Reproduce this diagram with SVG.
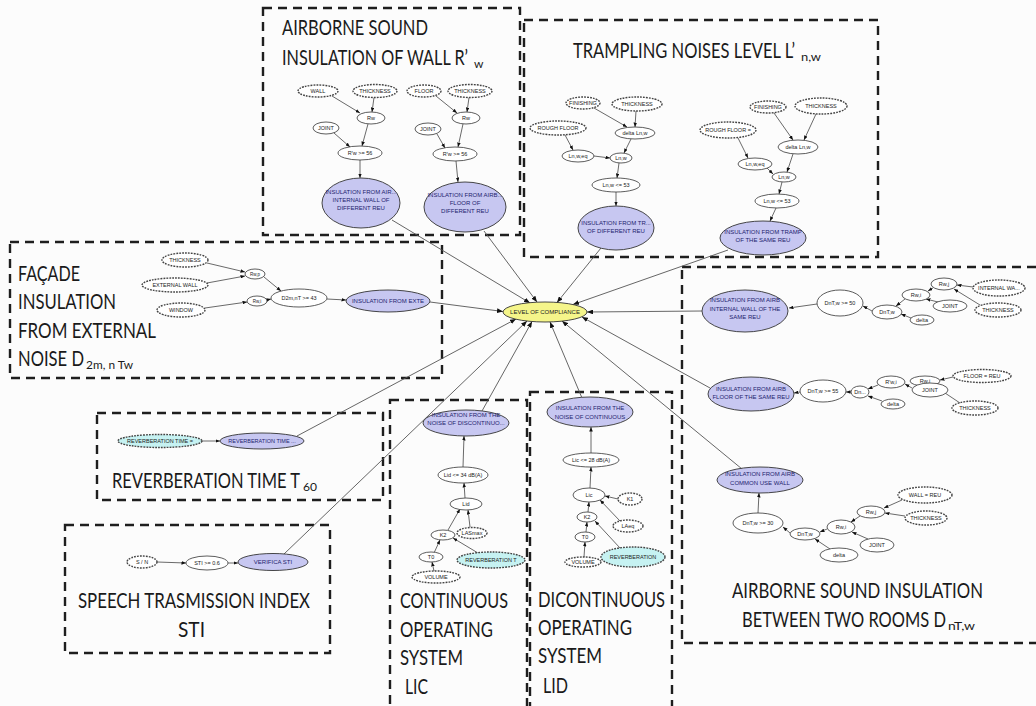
<svg xmlns="http://www.w3.org/2000/svg" width="1036" height="706" viewBox="0 0 1036 706">
<defs>
<style>
.box{fill:none;stroke:#1e1e1e;stroke-width:2.4;stroke-dasharray:9 6}
.n{fill:#fff;stroke:#333;stroke-width:0.8}
.e{fill:#fff;stroke:#444;stroke-width:1.4;stroke-dasharray:1.8 1.1}
.b{fill:#c7c7f1;stroke:#333;stroke-width:0.9}
.c{fill:#c6f2f2;stroke:#444;stroke-width:1.4;stroke-dasharray:1.8 1.1}
.y{fill:#f5f58a;stroke:#333;stroke-width:0.9}
.t{font-family:"Liberation Sans",Arial,sans-serif;font-size:5.5px;fill:#222;text-anchor:middle}
.bt{font-family:"Liberation Sans",Arial,sans-serif;font-size:6px;fill:#1d1d6e;text-anchor:middle}
.ti{font-family:Lato,"Liberation Sans",sans-serif;font-size:21px;fill:#1a1a1a}
.sb{font-size:12px}
.ed{stroke:#444;stroke-width:0.8;fill:none;marker-end:url(#ah)}
.cx{stroke:#555;stroke-width:0.9;fill:none;marker-end:url(#ah2)}
</style>
<marker id="ah" viewBox="0 0 10 8" refX="10" refY="4" markerWidth="4.5" markerHeight="3.6" markerUnits="userSpaceOnUse" orient="auto"><path d="M0,0L10,4L0,8z" fill="#111"/></marker>
<marker id="ah2" viewBox="0 0 10 8" refX="10" refY="4" markerWidth="6" markerHeight="4.8" markerUnits="userSpaceOnUse" orient="auto"><path d="M0,0L10,4L0,8z" fill="#111"/></marker>
</defs>
<rect width="1036" height="706" fill="#fcfcfc"/>

<g id="frames">
<rect class="box" x="263" y="8" width="257" height="227"/>
<rect class="box" x="524" y="20" width="354" height="237"/>
<rect class="box" x="10" y="242" width="432" height="136"/>
<rect class="box" x="682" y="267" width="380" height="376"/>
<rect class="box" x="97" y="413" width="286" height="87"/>
<rect class="box" x="65" y="525" width="265" height="128"/>
<rect class="box" x="390" y="400" width="137" height="330"/>
<rect class="box" x="530" y="392" width="142" height="340"/>
</g>

<g id="titles">
<text class="ti" x="282" y="35" textLength="146" lengthAdjust="spacingAndGlyphs">AIRBORNE SOUND</text>
<text class="ti" x="282" y="65"><tspan textLength="186" lengthAdjust="spacingAndGlyphs">INSULATION OF WALL R’</tspan><tspan class="sb" x="474" y="68">w</tspan></text>
<text class="ti" x="573" y="58"><tspan textLength="222" lengthAdjust="spacingAndGlyphs">TRAMPLING NOISES LEVEL L’</tspan><tspan class="sb" x="801" y="61" textLength="20" lengthAdjust="spacingAndGlyphs">n,w</tspan></text>
<text class="ti" x="18" y="281" textLength="62" lengthAdjust="spacingAndGlyphs">FAÇADE</text>
<text class="ti" x="18" y="309" textLength="98" lengthAdjust="spacingAndGlyphs">INSULATION</text>
<text class="ti" x="18" y="338" textLength="138" lengthAdjust="spacingAndGlyphs">FROM EXTERNAL</text>
<text class="ti" x="18" y="366"><tspan textLength="66" lengthAdjust="spacingAndGlyphs">NOISE D</tspan><tspan class="sb" x="86" y="369" textLength="47" lengthAdjust="spacingAndGlyphs">2m, n Tw</tspan></text>
<text class="ti" x="732" y="598" textLength="251" lengthAdjust="spacingAndGlyphs">AIRBORNE SOUND INSULATION</text>
<text class="ti" x="742" y="627"><tspan textLength="204" lengthAdjust="spacingAndGlyphs">BETWEEN TWO ROOMS D</tspan><tspan class="sb" x="948" y="630" textLength="27" lengthAdjust="spacingAndGlyphs">nT,w</tspan></text>
<text class="ti" x="112" y="488"><tspan textLength="188" lengthAdjust="spacingAndGlyphs">REVERBERATION TIME T</tspan><tspan class="sb" x="303" y="491" textLength="14" lengthAdjust="spacingAndGlyphs">60</tspan></text>
<text class="ti" x="78" y="608" textLength="232" lengthAdjust="spacingAndGlyphs">SPEECH TRASMISSION INDEX</text>
<text class="ti" x="178" y="637" textLength="27" lengthAdjust="spacingAndGlyphs">STI</text>
<text class="ti" x="400" y="608" textLength="108" lengthAdjust="spacingAndGlyphs">CONTINUOUS</text>
<text class="ti" x="400" y="637" textLength="93" lengthAdjust="spacingAndGlyphs">OPERATING</text>
<text class="ti" x="400" y="665" textLength="63" lengthAdjust="spacingAndGlyphs">SYSTEM</text>
<text class="ti" x="405" y="694" textLength="23" lengthAdjust="spacingAndGlyphs">LIC</text>
<text class="ti" x="538" y="607" textLength="127" lengthAdjust="spacingAndGlyphs">DICONTINUOUS</text>
<text class="ti" x="538" y="635" textLength="94" lengthAdjust="spacingAndGlyphs">OPERATING</text>
<text class="ti" x="538" y="663" textLength="64" lengthAdjust="spacingAndGlyphs">SYSTEM</text>
<text class="ti" x="543" y="693" textLength="25" lengthAdjust="spacingAndGlyphs">LID</text>
</g>

<g id="connectors">
<line class="ed" x1="332" y1="96" x2="360" y2="113"/>
<line class="ed" x1="374" y1="97.5" x2="372" y2="112"/>
<line class="ed" x1="368" y1="124" x2="362" y2="146"/>
<line class="ed" x1="334" y1="133" x2="350" y2="147"/>
<line class="ed" x1="360" y1="160" x2="360" y2="178"/>
<line class="ed" x1="436" y1="96" x2="457" y2="113"/>
<line class="ed" x1="469" y1="97.5" x2="467" y2="112"/>
<line class="ed" x1="463" y1="124" x2="458" y2="147"/>
<line class="ed" x1="437" y1="134" x2="445" y2="148"/>
<line class="ed" x1="456" y1="161" x2="458" y2="182"/>
<line class="ed" x1="594" y1="108" x2="627" y2="127"/>
<line class="ed" x1="636" y1="111" x2="635" y2="127"/>
<line class="ed" x1="565" y1="135" x2="573" y2="150"/>
<line class="ed" x1="631" y1="139" x2="624" y2="153"/>
<line class="ed" x1="594" y1="156" x2="610" y2="158"/>
<line class="ed" x1="619" y1="163" x2="617" y2="178"/>
<line class="ed" x1="616" y1="192" x2="616" y2="206"/>
<line class="ed" x1="774" y1="113" x2="793" y2="140"/>
<line class="ed" x1="816" y1="114" x2="804" y2="140"/>
<line class="ed" x1="738" y1="138" x2="748" y2="158"/>
<line class="ed" x1="793" y1="154" x2="787" y2="172"/>
<line class="ed" x1="767" y1="168" x2="773" y2="174"/>
<line class="ed" x1="782" y1="182" x2="779" y2="194"/>
<line class="ed" x1="776" y1="208" x2="770" y2="221"/>
<line class="ed" x1="207" y1="263" x2="245" y2="272"/>
<line class="ed" x1="207" y1="283" x2="245" y2="276"/>
<line class="ed" x1="205" y1="308" x2="247" y2="302"/>
<line class="ed" x1="264" y1="277" x2="281" y2="291"/>
<line class="ed" x1="267" y1="300" x2="271" y2="299"/>
<line class="ed" x1="327" y1="299" x2="346" y2="300"/>
<line class="ed" x1="973" y1="287" x2="957" y2="285"/>
<line class="ed" x1="980" y1="305" x2="954" y2="289"/>
<line class="ed" x1="933" y1="288" x2="928" y2="291"/>
<line class="ed" x1="938" y1="302" x2="926" y2="299"/>
<line class="ed" x1="905" y1="299" x2="896" y2="306"/>
<line class="ed" x1="911" y1="318" x2="901" y2="314"/>
<line class="ed" x1="872" y1="311" x2="863" y2="306"/>
<line class="ed" x1="817" y1="304" x2="789" y2="308"/>
<line class="ed" x1="953" y1="377" x2="940" y2="380"/>
<line class="ed" x1="960" y1="403" x2="933" y2="385"/>
<line class="ed" x1="912" y1="388" x2="905" y2="384"/>
<line class="ed" x1="878" y1="385" x2="868" y2="389"/>
<line class="ed" x1="882" y1="401" x2="868" y2="396"/>
<line class="ed" x1="851" y1="392" x2="846" y2="392"/>
<line class="ed" x1="800" y1="392" x2="794" y2="393"/>
<line class="ed" x1="902" y1="500" x2="884" y2="508"/>
<line class="ed" x1="905" y1="516" x2="885" y2="513"/>
<line class="ed" x1="860" y1="516" x2="851" y2="522"/>
<line class="ed" x1="868" y1="539" x2="852" y2="532"/>
<line class="ed" x1="827" y1="529" x2="820" y2="532"/>
<line class="ed" x1="830" y1="549" x2="815" y2="539"/>
<line class="ed" x1="790" y1="533" x2="783" y2="527"/>
<line class="ed" x1="758" y1="513" x2="759" y2="493"/>
<line class="ed" x1="202" y1="441" x2="220" y2="441"/>
<line class="ed" x1="157" y1="562" x2="186" y2="563"/>
<line class="ed" x1="228" y1="563" x2="238" y2="563"/>
<line class="ed" x1="434" y1="571" x2="432" y2="562"/>
<line class="ed" x1="434" y1="553" x2="440" y2="540"/>
<line class="ed" x1="478" y1="553" x2="453" y2="538"/>
<line class="ed" x1="448" y1="530" x2="460" y2="509"/>
<line class="ed" x1="470" y1="527" x2="468" y2="510"/>
<line class="ed" x1="465" y1="498" x2="464" y2="483"/>
<line class="ed" x1="463" y1="467" x2="464" y2="436"/>
<line class="ed" x1="584" y1="557" x2="585" y2="542"/>
<line class="ed" x1="586" y1="532" x2="587" y2="522"/>
<line class="ed" x1="620" y1="548" x2="595" y2="521"/>
<line class="ed" x1="588" y1="512" x2="589" y2="502"/>
<line class="ed" x1="620" y1="521" x2="600" y2="500"/>
<line class="ed" x1="618" y1="499" x2="605" y2="496"/>
<line class="ed" x1="590" y1="488" x2="591" y2="467"/>
<line class="ed" x1="591" y1="453" x2="591" y2="427"/>
<line class="cx" x1="392" y1="220" x2="530" y2="303"/>
<line class="cx" x1="484" y1="231" x2="537" y2="302"/>
<line class="cx" x1="601" y1="248" x2="557" y2="302.5"/>
<line class="cx" x1="728" y1="250" x2="573" y2="304.5"/>
<line class="cx" x1="430" y1="302" x2="503" y2="311.5"/>
<line class="cx" x1="702" y1="311" x2="587" y2="312"/>
<line class="cx" x1="710" y1="388" x2="582" y2="317"/>
<line class="cx" x1="742" y1="469" x2="562" y2="321"/>
<line class="cx" x1="582" y1="398" x2="550" y2="322"/>
<line class="cx" x1="482" y1="411" x2="532" y2="321.5"/>
<line class="cx" x1="284" y1="554" x2="527" y2="321"/>
<line class="cx" x1="297" y1="436" x2="516" y2="319"/>
</g>

<g id="n-loc"><ellipse class="y" cx="545" cy="312" rx="42" ry="10"/><text class="t" style="font-size:6px" x="545" y="314.2">LEVEL OF COMPLIANCE</text></g>

<g id="n-aw-wall"><ellipse class="e" cx="318" cy="91" rx="20" ry="6"/><text class="t" x="318" y="93">WALL</text></g>
<g id="n-aw-thk1"><ellipse class="e" cx="375" cy="91" rx="22" ry="6.5"/><text class="t" x="375" y="93">THICKNESS</text></g>
<g id="n-aw-rw1"><ellipse class="n" cx="371" cy="118" rx="14" ry="6"/><text class="t" x="371" y="120">Rw</text></g>
<g id="n-aw-joint1"><ellipse class="n" cx="326" cy="128" rx="13" ry="6"/><text class="t" x="326" y="130">JOINT</text></g>
<g id="n-aw-rwg1"><ellipse class="n" cx="360" cy="153" rx="22" ry="7"/><text class="t" x="360" y="155">R'w &gt;= 56</text></g>
<g id="n-aw-ins1"><ellipse class="b" cx="361" cy="203" rx="39" ry="25"/><text class="bt" x="361" y="194">INSULATION FROM AIR...</text><text class="bt" x="361" y="202">INTERNAL WALL OF</text><text class="bt" x="361" y="210">DIFFERENT REU</text></g>
<g id="n-aw-floor"><ellipse class="e" cx="424" cy="91" rx="17" ry="6"/><text class="t" x="424" y="93">FLOOR</text></g>
<g id="n-aw-thk2"><ellipse class="e" cx="470" cy="91" rx="22" ry="6.5"/><text class="t" x="470" y="93">THICKNESS</text></g>
<g id="n-aw-rw2"><ellipse class="n" cx="466" cy="118" rx="14" ry="6"/><text class="t" x="466" y="120">Rw</text></g>
<g id="n-aw-joint2"><ellipse class="n" cx="428" cy="129" rx="13" ry="6"/><text class="t" x="428" y="131">JOINT</text></g>
<g id="n-aw-rwg2"><ellipse class="n" cx="455" cy="154" rx="22" ry="7"/><text class="t" x="455" y="156">R'w &gt;= 56</text></g>
<g id="n-aw-ins2"><ellipse class="b" cx="465" cy="207" rx="41" ry="25"/><text class="bt" x="465" y="197">INSULATION FROM AIRB...</text><text class="bt" x="465" y="205">FLOOR OF</text><text class="bt" x="465" y="213">DIFFERENT REU</text></g>

<g id="n-tr-fin1"><ellipse class="e" cx="583" cy="103" rx="17" ry="6"/><text class="t" x="583" y="105">FINISHING</text></g>
<g id="n-tr-thk1"><ellipse class="e" cx="637" cy="104" rx="25" ry="7"/><text class="t" x="637" y="106">THICKNESS</text></g>
<g id="n-tr-rf1"><ellipse class="e" cx="558" cy="128" rx="28" ry="7"/><text class="t" x="558" y="130">ROUGH FLOOR</text></g>
<g id="n-tr-del1"><ellipse class="n" cx="635" cy="133" rx="20" ry="6"/><text class="t" x="635" y="135">delta Ln,w</text></g>
<g id="n-tr-eq1"><ellipse class="n" cx="578" cy="156" rx="16" ry="6"/><text class="t" x="578" y="158">Ln,w,eq</text></g>
<g id="n-tr-ln1"><ellipse class="n" cx="621" cy="158" rx="11" ry="5"/><text class="t" x="621" y="160">Ln,w</text></g>
<g id="n-tr-lng1"><ellipse class="n" cx="616" cy="185" rx="24" ry="7"/><text class="t" x="616" y="187">Ln,w &lt;= 53</text></g>
<g id="n-tr-ins1"><ellipse class="b" cx="616" cy="228" rx="38" ry="22"/><text class="bt" x="616" y="225">INSULATION FROM TR...</text><text class="bt" x="616" y="233">OF DIFFERENT REU</text></g>
<g id="n-tr-fin2"><ellipse class="e" cx="768" cy="107" rx="18" ry="6"/><text class="t" x="768" y="109">FINISHING</text></g>
<g id="n-tr-thk2"><ellipse class="e" cx="821" cy="106" rx="26" ry="8"/><text class="t" x="821" y="108">THICKNESS</text></g>
<g id="n-tr-rf2"><ellipse class="e" cx="728" cy="130" rx="28" ry="8"/><text class="t" x="728" y="132">ROUGH FLOOR =</text></g>
<g id="n-tr-del2"><ellipse class="n" cx="798" cy="147" rx="20" ry="7"/><text class="t" x="798" y="149">delta Ln,w</text></g>
<g id="n-tr-eq2"><ellipse class="n" cx="755" cy="164" rx="17" ry="6"/><text class="t" x="755" y="166">Ln,w,eq</text></g>
<g id="n-tr-ln2"><ellipse class="n" cx="784" cy="177" rx="12" ry="5"/><text class="t" x="784" y="179">Ln,w</text></g>
<g id="n-tr-lng2"><ellipse class="n" cx="777" cy="201" rx="22" ry="7"/><text class="t" x="777" y="203">Ln,w &lt;= 53</text></g>
<g id="n-tr-ins2"><ellipse class="b" cx="763" cy="238" rx="43" ry="17"/><text class="bt" x="763" y="234">INSULATION FROM TRAMP</text><text class="bt" x="763" y="242">OF THE SAME REU</text></g>

<g id="n-fa-thk"><ellipse class="e" cx="185" cy="260" rx="23" ry="7"/><text class="t" x="185" y="262">THICKNESS</text></g>
<g id="n-fa-ext"><ellipse class="e" cx="175" cy="285" rx="33" ry="7"/><text class="t" x="175" y="287">EXTERNAL WALL</text></g>
<g id="n-fa-win"><ellipse class="e" cx="181" cy="310" rx="24" ry="7"/><text class="t" x="181" y="312">WINDOW</text></g>
<g id="n-fa-rwp"><ellipse class="n" cx="255" cy="274" rx="10" ry="5"/><text class="t" style="font-size:4.5px" x="255" y="275.6">Rw,p</text></g>
<g id="n-fa-rwi"><ellipse class="n" cx="257" cy="301" rx="10" ry="5"/><text class="t" style="font-size:4.5px" x="257" y="302.6">Rw,i</text></g>
<g id="n-fa-d2m"><ellipse class="n" cx="299" cy="298" rx="28" ry="9"/><text class="t" x="299" y="300">D2m,nT &gt;= 43</text></g>
<g id="n-fa-ins"><ellipse class="b" cx="388" cy="301" rx="42" ry="11"/><text class="bt" x="388" y="303">INSULATION FROM EXTE</text></g>

<g id="n-r1-ins"><ellipse class="b" cx="745" cy="311" rx="43" ry="21"/><text class="bt" x="745" y="302">INSULATION FROM AIRB</text><text class="bt" x="745" y="310.5">INTERNAL WALL OF THE</text><text class="bt" x="745" y="319">SAME REU</text></g>
<g id="n-r1-dn50"><ellipse class="n" cx="840" cy="303" rx="23" ry="13"/><text class="t" x="840" y="305">DnT,w &gt;= 50</text></g>
<g id="n-r1-dnt"><ellipse class="n" cx="887" cy="312" rx="15" ry="7"/><text class="t" x="887" y="314">DnT,w</text></g>
<g id="n-r1-rwi"><ellipse class="n" cx="916" cy="295" rx="14" ry="6"/><text class="t" x="916" y="297">Rw,i</text></g>
<g id="n-r1-rwj"><ellipse class="n" cx="944" cy="284" rx="13" ry="6"/><text class="t" x="944" y="286">Rw,j</text></g>
<g id="n-r1-joint"><ellipse class="n" cx="950" cy="306" rx="17" ry="6"/><text class="t" x="950" y="308">JOINT</text></g>
<g id="n-r1-delta"><ellipse class="n" cx="922" cy="320" rx="12" ry="5"/><text class="t" x="922" y="322">delta</text></g>
<g id="n-r1-intwa"><ellipse class="e" cx="999" cy="288" rx="26" ry="8"/><text class="t" x="999" y="290">INTERNAL WA...</text></g>
<g id="n-r1-thk"><ellipse class="e" cx="998" cy="310" rx="23" ry="7"/><text class="t" x="998" y="312">THICKNESS</text></g>

<g id="n-r2-ins"><ellipse class="b" cx="751" cy="394" rx="43" ry="17"/><text class="bt" x="751" y="390.5">INSULATION FROM AIRB</text><text class="bt" x="751" y="399">FLOOR OF THE SAME REU</text></g>
<g id="n-r2-dn55"><ellipse class="n" cx="823" cy="391" rx="23" ry="11"/><text class="t" x="823" y="393">DnT,w &gt;= 55</text></g>
<g id="n-r2-dn"><ellipse class="n" cx="860" cy="392" rx="9" ry="6"/><text class="t" x="860" y="394">Dn...</text></g>
<g id="n-r2-rwl"><ellipse class="n" cx="891" cy="382" rx="14" ry="6"/><text class="t" x="891" y="384">R'w,i</text></g>
<g id="n-r2-delta"><ellipse class="n" cx="893" cy="404" rx="12" ry="5"/><text class="t" x="893" y="406">delta</text></g>
<g id="n-r2-rwj"><ellipse class="n" cx="925" cy="381" rx="15" ry="5"/><text class="t" x="925" y="383">Rw,j</text></g>
<g id="n-r2-joint"><ellipse class="n" cx="930" cy="390" rx="18" ry="7"/><text class="t" x="930" y="392">JOINT</text></g>
<g id="n-r2-floor"><ellipse class="e" cx="982" cy="376" rx="29" ry="6.5"/><text class="t" x="982" y="378">FLOOR = REU</text></g>
<g id="n-r2-thk"><ellipse class="e" cx="975" cy="408" rx="23" ry="7"/><text class="t" x="975" y="410">THICKNESS</text></g>

<g id="n-r3-ins"><ellipse class="b" cx="760" cy="480" rx="43" ry="13"/><text class="bt" x="760" y="475.5">INSULATION FROM AIRB</text><text class="bt" x="760" y="484.5">COMMON USE WALL</text></g>
<g id="n-r3-dn30"><ellipse class="n" cx="758" cy="523" rx="25" ry="10"/><text class="t" x="758" y="525">DnT,w &gt;= 30</text></g>
<g id="n-r3-dnt"><ellipse class="n" cx="805" cy="534" rx="15" ry="6"/><text class="t" x="805" y="536">DnT,w</text></g>
<g id="n-r3-rwi"><ellipse class="n" cx="841" cy="527" rx="14" ry="7"/><text class="t" x="841" y="529">Rw,i</text></g>
<g id="n-r3-rwj"><ellipse class="n" cx="871" cy="512" rx="14" ry="6"/><text class="t" x="871" y="514">Rw,j</text></g>
<g id="n-r3-joint"><ellipse class="n" cx="877" cy="545" rx="17" ry="7"/><text class="t" x="877" y="547">JOINT</text></g>
<g id="n-r3-delta"><ellipse class="n" cx="839" cy="555" rx="19" ry="7"/><text class="t" x="839" y="557">delta</text></g>
<g id="n-r3-wall"><ellipse class="e" cx="925" cy="495" rx="27" ry="8"/><text class="t" x="925" y="497">WALL = REU</text></g>
<g id="n-r3-thk"><ellipse class="e" cx="926" cy="518" rx="21" ry="7"/><text class="t" x="926" y="520">THICKNESS</text></g>

<g id="n-rv-eq"><ellipse class="c" cx="160" cy="441" rx="42" ry="6.5"/><text class="t" x="160" y="443">REVERBERATION TIME =</text></g>
<g id="n-rv-ins"><ellipse class="b" cx="262" cy="441" rx="42" ry="8"/><text class="bt" style="font-size:5.5px" x="262" y="443">REVERBERATION TIME ...</text></g>

<g id="n-st-sn"><ellipse class="e" cx="142" cy="562" rx="15" ry="6"/><text class="t" x="142" y="564">S / N</text></g>
<g id="n-st-sti"><ellipse class="n" cx="207" cy="563" rx="21" ry="7"/><text class="t" x="207" y="565">STI &gt;= 0.6</text></g>
<g id="n-st-ver"><ellipse class="b" cx="273" cy="562" rx="35" ry="8.5"/><text class="bt" x="273" y="564">VERIFICA STI</text></g>

<g id="n-lic-ins"><ellipse class="b" cx="466" cy="423" rx="43" ry="13"/><text class="bt" x="466" y="416.5">INSULATION FROM THE</text><text class="bt" x="466" y="425">NOISE OF DISCONTINUO...</text></g>
<g id="n-lic-34"><ellipse class="n" cx="463" cy="475" rx="25" ry="8"/><text class="t" x="463" y="477">Lid &lt;= 34 dB(A)</text></g>
<g id="n-lic-lid"><ellipse class="n" cx="466" cy="504" rx="16" ry="6"/><text class="t" x="466" y="506">Lid</text></g>
<g id="n-lic-k2"><ellipse class="n" cx="443" cy="535" rx="12" ry="5"/><text class="t" x="443" y="537">K2</text></g>
<g id="n-lic-las"><ellipse class="e" cx="472" cy="533" rx="15" ry="5.5"/><text class="t" x="472" y="535">LASmax</text></g>
<g id="n-lic-t0"><ellipse class="n" cx="431" cy="557" rx="12" ry="5"/><text class="t" x="431" y="559">T0</text></g>
<g id="n-lic-rev"><ellipse class="c" cx="491" cy="560" rx="34" ry="8"/><text class="t" x="491" y="562">REVERBERATION T</text></g>
<g id="n-lic-vol"><ellipse class="e" cx="436" cy="577" rx="24" ry="6"/><text class="t" x="436" y="579">VOLUME</text></g>

<g id="n-lid-ins"><ellipse class="b" cx="590" cy="412" rx="43" ry="15"/><text class="bt" x="590" y="410">INSULATION FROM THE</text><text class="bt" x="590" y="419">NOISE OF CONTINUOUS</text></g>
<g id="n-lid-28"><ellipse class="n" cx="591" cy="460" rx="28" ry="7"/><text class="t" x="591" y="462">Lic &lt;= 28 dB(A)</text></g>
<g id="n-lid-lic"><ellipse class="n" cx="589" cy="495" rx="16" ry="7"/><text class="t" x="589" y="497">Lic</text></g>
<g id="n-lid-k1"><ellipse class="e" cx="630" cy="499" rx="12" ry="6"/><text class="t" x="630" y="501">K1</text></g>
<g id="n-lid-k2"><ellipse class="n" cx="587" cy="517" rx="10" ry="5"/><text class="t" x="587" y="519">K2</text></g>
<g id="n-lid-laeq"><ellipse class="e" cx="628" cy="526" rx="15" ry="6"/><text class="t" x="628" y="528">LAeq</text></g>
<g id="n-lid-t0"><ellipse class="n" cx="585" cy="537" rx="10" ry="5"/><text class="t" x="585" y="539">T0</text></g>
<g id="n-lid-rev"><ellipse class="c" cx="633" cy="557" rx="32" ry="10"/><text class="t" x="633" y="559">REVERBERATION</text></g>
<g id="n-lid-vol"><ellipse class="e" cx="583" cy="562" rx="18" ry="5"/><text class="t" x="583" y="564">VOLUME</text></g>
</svg>
